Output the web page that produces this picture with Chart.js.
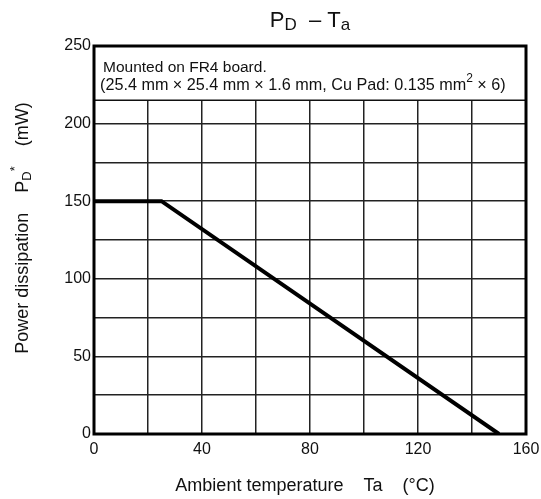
<!DOCTYPE html>
<html><head><meta charset="utf-8">
<script src="https://cdn.jsdelivr.net/npm/chart.js@4"></script>
<style>html,body{margin:0;padding:0;background:#fff}</style>
</head><body>
<canvas id="c" width="541" height="499" style="width:541px;height:499px;display:block"></canvas>
<script>
// ---- data ----
const temperatures = [0, 25, 150];          // Ta (°C)
const powerDissipation = [150, 150, 0];     // PD* (mW)
const xTickLabels = [0, 40, 80, 120, 160];
const yTickLabels = [0, 50, 100, 150, 200, 250];
const noteLine1 = "Mounted on FR4 board.";
const noteLine2 = ["(25.4 mm \u00d7 25.4 mm \u00d7 1.6 mm, Cu Pad: 0.135 mm", "2", " \u00d7 6)"];
const noteBoxBottomValue = 215;

const FONT = '"Liberation Sans", Arial, sans-serif';

function drawRuns(ctx, runs, x, y, align) {
  let total = 0;
  runs.forEach(r => { ctx.font = r.size + 'px ' + FONT; r.w = ctx.measureText(r.t).width; total += r.w; });
  let cx = align === 'center' ? x - total / 2 : x;
  ctx.textAlign = 'left';
  ctx.textBaseline = 'alphabetic';
  runs.forEach(r => { ctx.font = r.size + 'px ' + FONT; ctx.fillText(r.t, cx, y + (r.dy || 0)); cx += r.w; });
}

const decor = {
  id: 'decor',
  beforeDraw(chart) {
    const ctx = chart.ctx;
    ctx.save(); ctx.fillStyle = '#fff'; ctx.fillRect(0, 0, chart.width, chart.height); ctx.restore();
  },
  afterDraw(chart) {
    const { ctx, chartArea: a, scales: { x, y } } = chart;
    ctx.save();
    // note box
    const yb = y.getPixelForValue(noteBoxBottomValue);
    ctx.fillStyle = '#fff';
    ctx.fillRect(a.left, a.top, a.width, yb - a.top);
    ctx.strokeStyle = '#111'; ctx.lineWidth = 1.5;
    ctx.beginPath(); ctx.moveTo(a.left, yb); ctx.lineTo(a.right, yb); ctx.stroke();
    ctx.fillStyle = '#111';
    drawRuns(ctx, [{ t: noteLine1, size: 15.5 }], a.left + 9, a.top + 25.5, 'left');
    drawRuns(ctx, [
      { t: noteLine2[0], size: 16.2 },
      { t: noteLine2[1], size: 12, dy: -8 },
      { t: noteLine2[2], size: 16.2 }
    ], a.left + 6, a.top + 44, 'left');
    // frame
    ctx.strokeStyle = '#000'; ctx.lineWidth = 3;
    ctx.strokeRect(a.left, a.top, a.right - a.left, a.bottom - a.top);
    // title
    ctx.fillStyle = '#111';
    const cx = (a.left + a.right) / 2;
    drawRuns(ctx, [
      { t: 'P', size: 22 }, { t: 'D', size: 17, dy: 3 },
      { t: '  \u2013 ', size: 22 }, { t: 'T', size: 22 }, { t: 'a', size: 17, dy: 3 }
    ], cx, 27, 'center');
    // x title
    drawRuns(ctx, [{ t: 'Ambient temperature    Ta    (\u00b0C)', size: 18 }], cx - 5, 491, 'center');
    // y title
    ctx.translate(28, 228);
    ctx.rotate(-Math.PI / 2);
    drawRuns(ctx, [
      { t: 'Power dissipation    P', size: 18 }, { t: 'D', size: 13, dy: 3 },
      { t: '*', size: 13, dy: -9 }, { t: '    (mW)', size: 18 }
    ], 0, 0, 'center');
    ctx.restore();
  }
};

new Chart(document.getElementById('c'), {
  type: 'line',
  data: {
    datasets: [{
      data: temperatures.map((t, i) => ({ x: t, y: powerDissipation[i] })),
      borderColor: '#000', borderWidth: 4, pointRadius: 0, tension: 0, fill: false,
      borderCapStyle: 'butt', borderJoinStyle: 'miter'
    }]
  },
  options: {
    responsive: false, animation: false, devicePixelRatio: 1,
    layout: { padding: { top: 46, right: 15, left: 0, bottom: 0 } },
    plugins: { legend: { display: false }, tooltip: { enabled: false }, title: { display: false } },
    scales: {
      x: {
        type: 'linear', min: 0, max: 160,
        afterFit(s) { s.height = 65; s.paddingRight = 0; s.paddingLeft = 0; },
        ticks: {
          stepSize: 20, autoSkip: false, maxRotation: 0, padding: 6,
          color: '#111', font: { family: FONT, size: 16 },
          callback: v => xTickLabels.includes(v) ? String(v) : ''
        },
        grid: { color: '#222', lineWidth: 1.5, drawTicks: false },
        border: { display: false }
      },
      y: {
        min: 0, max: 250,
        afterFit(s) { s.width = 94; s.paddingTop = 0; s.paddingBottom = 0; },
        ticks: {
          stepSize: 25, autoSkip: false, padding: 3,
          color: '#111', font: { family: FONT, size: 16 },
          callback: v => yTickLabels.includes(v) ? String(v) : ''
        },
        grid: { color: '#222', lineWidth: 1.5, drawTicks: false },
        border: { display: false }
      }
    }
  },
  plugins: [decor]
});
</script>
</body></html>
